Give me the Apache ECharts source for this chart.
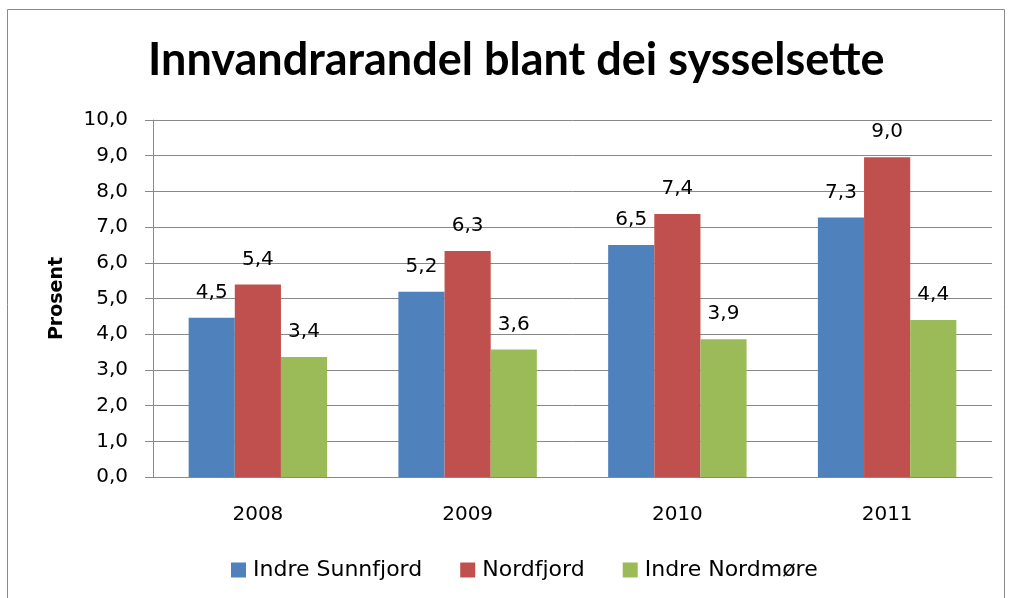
<!DOCTYPE html>
<html><head><meta charset="utf-8">
<script src="https://cdn.jsdelivr.net/npm/echarts@6/dist/echarts.min.js"></script>
<style>html,body{margin:0;padding:0;background:#fff}#c{width:1009px;height:598px}</style>
</head><body><div id="c"></div>
<script>
const categories = ['2008', '2009', '2010', '2011'];
const seriesNames = ['Indre Sunnfjord', 'Nordfjord', 'Indre Nordmøre'];
const indreSunnfjord = [4.46, 5.19, 6.50, 7.27];
const nordfjord = [5.39, 6.33, 7.37, 8.96];
const indreNordmore = [3.36, 3.57, 3.86, 4.40];
const colors = ['#4F81BD', '#C0504D', '#9BBB59'];
const yMin = 0, yMax = 10, yInterval = 1;

const font = '"DejaVu Sans", sans-serif';
const titleFont = 'Lato, "Open Sans", sans-serif';
const fmt = v => v.toFixed(1).replace('.', ',');
const chart = echarts.init(document.getElementById('c'));
const data = [indreSunnfjord, nordfjord, indreNordmore];
chart.setOption({
  animation: false,
  backgroundColor: '#fff',
  graphic: [{type: 'rect', shape: {x: 7.5, y: 9.5, width: 997, height: 620}, style: {fill: 'none', stroke: '#8a8a8a', lineWidth: 1}, z: -1}],
  title: {text: 'Innvandrarandel blant dei sysselsette', left: 143, top: 33,
    textStyle: {fontFamily: titleFont, fontWeight: 'bold', fontSize: 45, color: '#000'}},
  legend: {top: 554, left: 226, itemWidth: 15, itemHeight: 15, itemGap: 38,
    icon: 'rect', textStyle: {fontFamily: font, fontSize: 22, color: '#000', padding: [0, 0, 0, 2]}, data: seriesNames},
  grid: {left: 153, right: 17, top: 120, bottom: 121},
  xAxis: {type: 'category', data: categories,
    axisLine: {lineStyle: {color: '#888'}}, axisTick: {show: false},
    axisLabel: {fontFamily: font, fontSize: 20, color: '#000', margin: 28}},
  yAxis: {type: 'value', min: yMin, max: yMax, interval: yInterval,
    name: 'Prosent', nameLocation: 'middle', nameGap: 86, nameRotate: 90,
    nameTextStyle: {fontFamily: font, fontSize: 19, fontWeight: 'bold', color: '#000'},
    axisLine: {show: true, lineStyle: {color: '#888'}},
    axisTick: {show: true, length: 8, lineStyle: {color: '#888'}},
    splitLine: {lineStyle: {color: '#888', width: 1}},
    axisLabel: {fontFamily: font, fontSize: 20, color: '#000', margin: 25, formatter: v => fmt(v)}},
  series: data.map((d, i) => ({
    name: seriesNames[i], type: 'bar', data: d, barGap: '0%', barCategoryGap: '34%',
    itemStyle: {color: colors[i]},
    label: {show: true, position: 'top', distance: 15, fontFamily: font, fontSize: 20, color: '#000', formatter: p => fmt(p.value)}
  }))
});
</script></body></html>
